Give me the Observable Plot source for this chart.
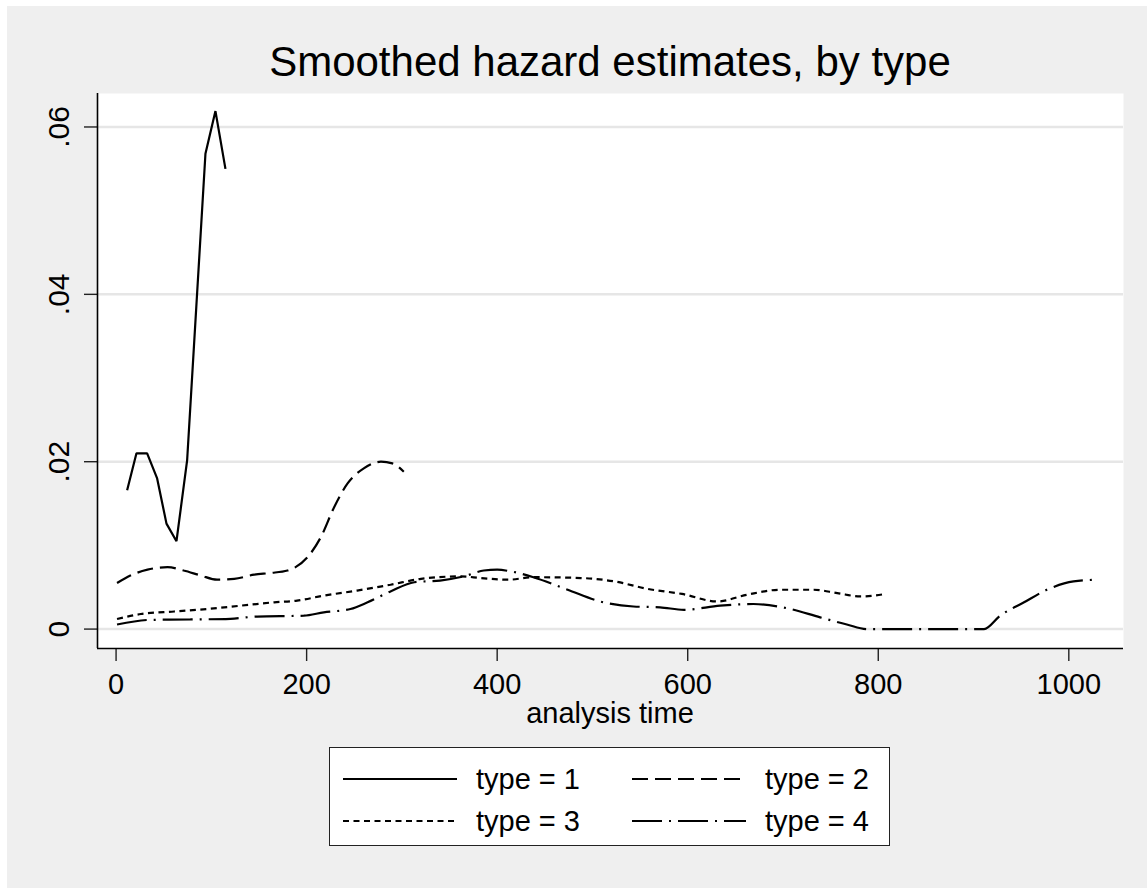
<!DOCTYPE html>
<html>
<head>
<meta charset="utf-8">
<script src="https://cdn.jsdelivr.net/npm/d3@7"></script>
<script src="https://cdn.jsdelivr.net/npm/@observablehq/plot@0.6"></script>
<style>
  html, body { margin: 0; padding: 0; background: #ffffff; }
  body { width: 1147px; height: 888px; position: relative; overflow: hidden;
         font-family: "Liberation Sans", Arial, sans-serif; color: #000; }
  #bg { position: absolute; left: 7px; top: 6px; width: 1140px; height: 882px; background: #efefef; }
  #chart { position: absolute; left: 0; top: 0; }
  #title { position: absolute; left: 97px; width: 1026px; top: 41px; text-align: center;
           font-size: 42px; line-height: 42px; white-space: nowrap; }
  #xlabel { position: absolute; left: 97px; width: 1026px; top: 699px; text-align: center;
            font-size: 29px; line-height: 29px; }
  #legend { position: absolute; left: 329px; top: 747px; width: 559px; height: 97px;
            border: 1px solid #222; background: #fff; }
  .lg-item { position: absolute; height: 30px; }
  .lg-item svg { position: absolute; left: 0; top: 0; }
  .lg-item span { position: absolute; top: 0; font-size: 29px; line-height: 30px; white-space: nowrap; }
</style>
</head>
<body>
<div id="bg"></div>
<div id="title">Smoothed hazard estimates, by type</div>
<div id="chart"></div>
<div id="xlabel">analysis time</div>
<div id="legend"></div>
<script>
// ---- data ----
const seriesNames = ["type = 1", "type = 2", "type = 3", "type = 4"];

const time1 = [11.6, 21.4, 32.6, 43.1, 52.9, 63.4, 74.6, 84.2, 93.8, 104.3, 114.8];
const haz1  = [0.0166, 0.0210, 0.0210, 0.0180, 0.0126, 0.0105, 0.0202, 0.0385, 0.0568, 0.0619, 0.0550];

const time2 = [1, 15, 33, 54, 71, 89, 106, 124, 145, 162, 180, 201, 215, 229, 243, 260, 278, 290, 302];
const haz2  = [0.0055, 0.0064, 0.0071, 0.0074, 0.0070, 0.0064, 0.0059, 0.0060, 0.0065, 0.0067, 0.0070,
               0.0086, 0.0110, 0.0146, 0.0174, 0.0192, 0.0200, 0.0198, 0.0188];

const time3 = [1, 26, 61, 96, 131, 166, 190, 218, 253, 288, 320, 362, 383, 411, 439, 488, 523, 558,
               594, 631, 662, 697, 732, 757, 781, 808];
const haz3  = [0.0012, 0.0018, 0.0021, 0.0024, 0.0028, 0.0032, 0.0034, 0.0040, 0.0046, 0.0053, 0.0060,
               0.0063, 0.0061, 0.0059, 0.0062, 0.0061, 0.0057, 0.0048, 0.0042, 0.0033, 0.0041, 0.0047,
               0.0047, 0.0043, 0.0039, 0.0042];

const time4 = [1, 36, 78, 120, 148, 197, 218, 246, 264, 288, 313, 340, 365, 386, 400, 414, 438, 474,
               508, 543, 571, 596, 634, 669, 704, 739, 767, 788, 837, 911, 928, 953, 977, 1005, 1030];
const haz4  = [0.00055, 0.0011, 0.00115, 0.00123, 0.0015, 0.0016, 0.0020, 0.0024, 0.0032, 0.0045,
               0.0056, 0.0058, 0.0063, 0.0070, 0.0071, 0.0069, 0.0062, 0.0047, 0.0033, 0.0027, 0.0026,
               0.0023, 0.0028, 0.0030, 0.0025, 0.0014, 0.00055, 0, 0, 0, 0.0016, 0.0032, 0.0047,
               0.0057, 0.0059];

const xTicks = [0, 200, 400, 600, 800, 1000];
const yTicks = [0, 0.02, 0.04, 0.06];

// ---- styles ----
const dashes = [null, "16,7", "6,4.5", "30,7,2,7"];
const curves = ["linear", "monotone-x", "monotone-x", "monotone-x"];

const allTimes = [time1, time2, time3, time4];
const allHaz = [haz1, haz2, haz3, haz4];
const rows = allTimes.map((ts, i) => ts.map((t, j) => ({series: seriesNames[i], t, h: allHaz[i][j]})));

const xDomain = [-19.5, 1057.4];
const yDomain = [-0.00232, 0.0640];
const yFmt = d => d === 0 ? "0" : d3.format(".2f")(d).replace(/^0/, "");

const chart = Plot.plot({
  width: 1147,
  height: 740,
  marginLeft: 97,
  marginRight: 24,
  marginTop: 93,
  marginBottom: 92,
  style: {background: "transparent", fontFamily: "'Liberation Sans', Arial, sans-serif", fontSize: "29px", color: "#000"},
  x: {domain: xDomain},
  y: {domain: yDomain},
  marks: [
    Plot.frame({fill: "white", stroke: null}),
    Plot.gridY(yTicks, {stroke: "#e6e6e6", strokeOpacity: 1, strokeWidth: 2.5}),
    Plot.axisX(xTicks, {tickSize: 13, tickPadding: 12, tickFormat: d => String(d), label: null,
                        stroke: "#222", strokeWidth: 1.4, fontSize: 29}),
    Plot.axisY(yTicks, {tickSize: 13, tickFormat: () => "", label: null, stroke: "#222", strokeWidth: 1.4}),
    Plot.text(yTicks, {x: () => xDomain[0], y: d => d, text: yFmt, rotate: -90, dx: -38,
                       textAnchor: "middle", lineAnchor: "middle", fontSize: 30}),
    Plot.ruleX([xDomain[0]], {stroke: "#000", strokeWidth: 1.6}),
    Plot.ruleY([yDomain[0]], {stroke: "#000", strokeWidth: 1.6}),
    ...rows.map((r, i) => Plot.line(r, {
      x: "t", y: "h", stroke: "#000", strokeWidth: 2.2,
      strokeDasharray: dashes[i] || undefined, curve: curves[i],
      strokeLinecap: "butt", strokeLinejoin: "miter"
    }))
  ]
});
document.getElementById("chart").appendChild(chart);

// ---- legend ----
const legend = document.getElementById("legend");
const legendPos = [
  {sx: 13, tx: 146, ty: 16},
  {sx: 302, tx: 435, ty: 16},
  {sx: 13, tx: 146, ty: 58},
  {sx: 302, tx: 435, ty: 58}
];
seriesNames.forEach((name, i) => {
  const p = legendPos[i];
  const item = document.createElement("div");
  item.className = "lg-item";
  item.style.left = p.sx + "px";
  item.style.top = p.ty + "px";
  item.style.width = "260px";
  const sample = d3.create("svg").attr("width", 114).attr("height", 30);
  sample.append("line").attr("x1", 0).attr("x2", 114).attr("y1", 15).attr("y2", 15)
    .attr("stroke", "#000").attr("stroke-width", 2.2)
    .attr("stroke-dasharray", dashes[i] || null);
  item.appendChild(sample.node());
  const label = document.createElement("span");
  label.style.left = (p.tx - p.sx) + "px";
  label.textContent = name;
  item.appendChild(label);
  legend.appendChild(item);
});
</script>
</body>
</html>
